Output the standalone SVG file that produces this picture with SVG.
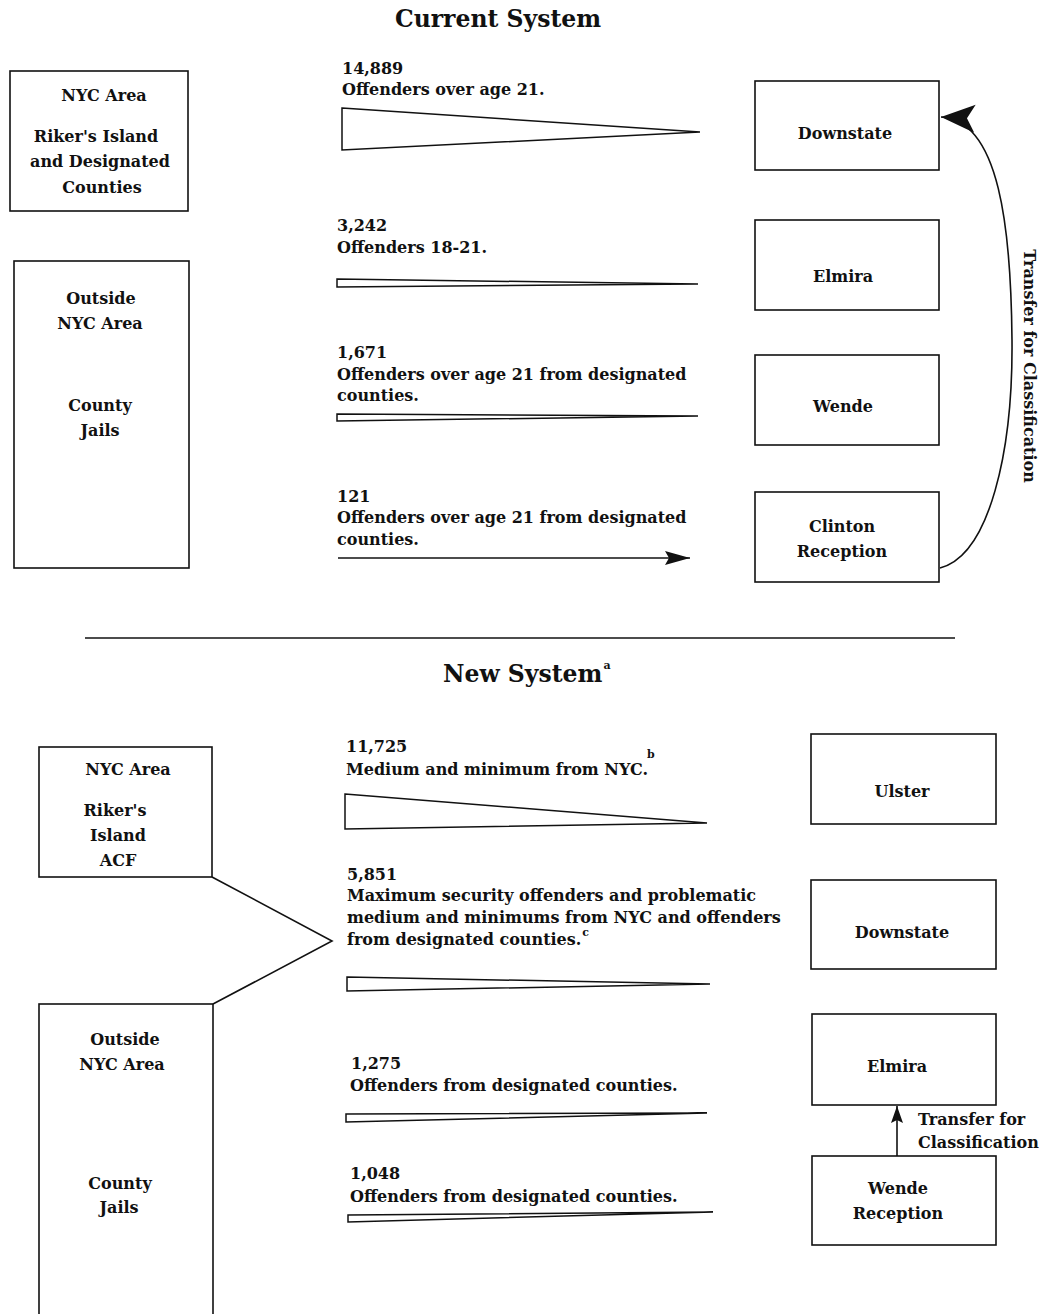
<svg xmlns="http://www.w3.org/2000/svg" width="1041" height="1314" viewBox="0 0 1041 1314">
<style>
text { font-family: "DejaVu Serif", "Liberation Serif", serif; font-weight: bold; font-size: 16px; fill: #111; }
.title { font-size: 23.5px; }
.c { text-anchor: middle; }
.sup { font-size: 11px; }
.box { fill: #fff; stroke: #111; stroke-width: 1.6; }
.wedge { fill: #fff; stroke: #111; stroke-width: 1.5; stroke-linejoin: miter; }
.line { fill: none; stroke: #111; stroke-width: 1.6; }
</style>
<defs>
<marker id="headL" markerUnits="userSpaceOnUse" markerWidth="40" markerHeight="32" refX="34" refY="15" orient="auto">
<path d="M0,1 L34,15 L0,29 L8,15 Z" fill="#111"/>
</marker>
<marker id="headM" markerUnits="userSpaceOnUse" markerWidth="30" markerHeight="20" refX="25" refY="8" orient="auto">
<path d="M0,1 L25,8 L0,15 L4,8 Z" fill="#111"/>
</marker>
<marker id="headS" markerUnits="userSpaceOnUse" markerWidth="20" markerHeight="16" refX="17" refY="7" orient="auto">
<path d="M0,1 L17,7 L0,13 L3,7 Z" fill="#111"/>
</marker>
</defs>
<rect width="1041" height="1314" fill="#fff"/>

<text class="title c" x="498" y="27">Current System</text>
<line class="line" x1="85" y1="638" x2="955" y2="638"/>
<text class="title" x="443" y="682">New System<tspan class="sup" dy="-13" dx="1">a</tspan></text>

<g id="connectors">
  <polygon class="wedge" points="342,108 700,132 342,150"/>
  <polygon class="wedge" points="337,279 698,284 337,287"/>
  <polygon class="wedge" points="337,414 698,416 337,421"/>
  <line class="line" x1="338" y1="558" x2="690" y2="558" marker-end="url(#headM)"/>
  <path class="line" d="M940,568 C990,555 1013,450 1012,340 C1011,230 1000,120 941,117" marker-end="url(#headL)"/>
  <polyline class="line" points="212,877 332,941 213,1004"/>
  <polygon class="wedge" points="345,794 707,823 345,829"/>
  <polygon class="wedge" points="347,977 710,984 347,991"/>
  <polygon class="wedge" points="346,1114 707,1113 346,1122"/>
  <polygon class="wedge" points="348,1215 713,1212 348,1222"/>
  <line class="line" x1="897" y1="1156" x2="897" y2="1106" marker-end="url(#headS)"/>
</g>

<g id="flow-labels">
  <text x="342" y="74">14,889</text>
  <text x="342" y="95">Offenders over age 21.</text>
  <text x="337" y="231">3,242</text>
  <text x="337" y="253">Offenders 18-21.</text>
  <text x="337" y="358">1,671</text>
  <text x="337" y="380">Offenders over age 21 from designated</text>
  <text x="337" y="401">counties.</text>
  <text x="337" y="502">121</text>
  <text x="337" y="523">Offenders over age 21 from designated</text>
  <text x="337" y="545">counties.</text>
  <text transform="translate(1024,366) rotate(90)" class="c">Transfer for Classification</text>

  <text x="346" y="752">11,725</text>
  <text x="346" y="775">Medium and minimum from NYC.<tspan class="sup" dx="-1" dy="-17">b</tspan></text>
  <text x="347" y="880">5,851</text>
  <text x="347" y="901">Maximum security offenders and problematic</text>
  <text x="347" y="923">medium and minimums from NYC and offenders</text>
  <text x="347" y="945">from designated counties.<tspan class="sup" dx="1" dy="-9">c</tspan></text>
  <text x="351" y="1069">1,275</text>
  <text x="350" y="1091">Offenders from designated counties.</text>
  <text x="350" y="1179">1,048</text>
  <text x="350" y="1202">Offenders from designated counties.</text>
  <text x="918" y="1125">Transfer for</text>
  <text x="918" y="1148">Classification</text>
</g>

<g id="cur-nyc">
  <rect class="box" x="10" y="71" width="178" height="140"/>
  <text class="c" x="104" y="101">NYC Area</text>
  <text class="c" x="96" y="142">Riker's Island</text>
  <text class="c" x="100" y="167">and Designated</text>
  <text class="c" x="102" y="193">Counties</text>
</g>
<g id="cur-outside">
  <rect class="box" x="14" y="261" width="175" height="307"/>
  <text class="c" x="101" y="304">Outside</text>
  <text class="c" x="100" y="329">NYC Area</text>
  <text class="c" x="100" y="411">County</text>
  <text class="c" x="100" y="436">Jails</text>
</g>
<g id="cur-downstate">
  <rect class="box" x="755" y="81" width="184" height="89"/>
  <text class="c" x="845" y="139">Downstate</text>
</g>
<g id="cur-elmira">
  <rect class="box" x="755" y="220" width="184" height="90"/>
  <text class="c" x="843" y="282">Elmira</text>
</g>
<g id="cur-wende">
  <rect class="box" x="755" y="355" width="184" height="90"/>
  <text class="c" x="843" y="412">Wende</text>
</g>
<g id="cur-clinton">
  <rect class="box" x="755" y="492" width="184" height="90"/>
  <text class="c" x="842" y="532">Clinton</text>
  <text class="c" x="842" y="557">Reception</text>
</g>

<g id="new-nyc">
  <rect class="box" x="39" y="747" width="173" height="130"/>
  <text class="c" x="128" y="775">NYC Area</text>
  <text class="c" x="115" y="816">Riker's</text>
  <text class="c" x="118" y="841">Island</text>
  <text class="c" x="118" y="866">ACF</text>
</g>
<g id="new-outside">
  <rect class="box" x="39" y="1004" width="174" height="330"/>
  <text class="c" x="125" y="1045">Outside</text>
  <text class="c" x="122" y="1070">NYC Area</text>
  <text class="c" x="120" y="1189">County</text>
  <text class="c" x="119" y="1213">Jails</text>
</g>
<g id="new-ulster">
  <rect class="box" x="811" y="734" width="185" height="90"/>
  <text class="c" x="902" y="797">Ulster</text>
</g>
<g id="new-downstate">
  <rect class="box" x="811" y="880" width="185" height="89"/>
  <text class="c" x="902" y="938">Downstate</text>
</g>
<g id="new-elmira">
  <rect class="box" x="812" y="1014" width="184" height="91"/>
  <text class="c" x="897" y="1072">Elmira</text>
</g>
<g id="new-wende">
  <rect class="box" x="812" y="1156" width="184" height="89"/>
  <text class="c" x="898" y="1194">Wende</text>
  <text class="c" x="898" y="1219">Reception</text>
</g>
</svg>
